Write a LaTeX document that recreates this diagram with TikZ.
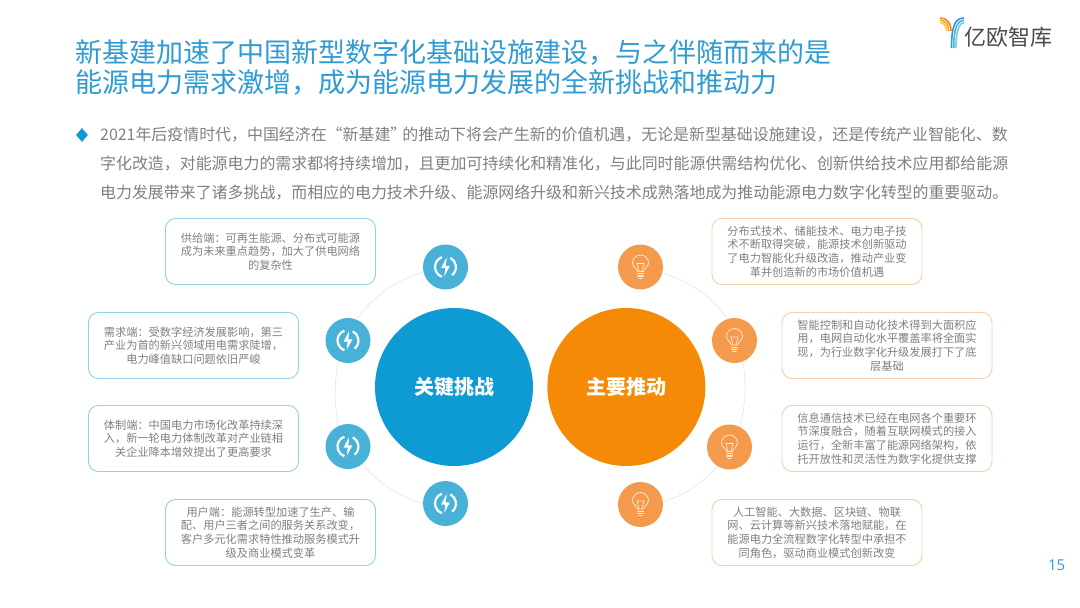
\documentclass[tikz,border=0pt]{standalone}
\usepackage{fontspec}
\setmainfont{Noto Sans CJK SC}
\newfontfamily\numfont{Open Sans}
\usetikzlibrary{positioning}
\usetikzlibrary{shapes.geometric}
\definecolor{titleblue}{HTML}{2F9BD2}
\definecolor{bodygray}{HTML}{808080}
\definecolor{bigblue}{HTML}{0E9AD2}
\definecolor{bigorange}{HTML}{F48A05}
\definecolor{discblue}{HTML}{47B1D8}
\definecolor{discorange}{HTML}{F49A4C}
\definecolor{edgeblue}{HTML}{92D0E8}
\definecolor{edgeorange}{HTML}{F7CFA8}
\definecolor{ringgray}{HTML}{E8E8E8}
\definecolor{logogray}{HTML}{4A4A4A}
\definecolor{bulbline}{HTML}{FFE9D4}
\tikzstyle{card} = [rectangle, rounded corners=10pt,
minimum width=210pt,
minimum height=66pt, text centered,
align = center, inner sep=0pt,
line width=0.9pt, fill=white,
text=bodygray, font=\fontsize{11.2}{13.6}\selectfont]
\tikzstyle{bluecard} = [card, draw=edgeblue]
\tikzstyle{orangecard} = [card, draw=edgeorange]
\tikzstyle{bigdisc} = [circle, minimum size=158pt, inner sep=0pt,
text=white, font=\fontsize{20}{24}\selectfont\bfseries]
\tikzstyle{disc} = [circle, minimum size=45pt, inner sep=0pt]
\tikzstyle{ring} = [ringgray, line width=0.7pt]
\tikzset{
pics/bolticon/.style={code={
    \draw[white, line width=2.2pt] (-3.6,9.9) arc (110:250:10.5);
    \draw[white, line width=2.2pt] (6.7,-8.1) arc (-50:62:10.5);
    \fill[white, draw=discblue, line width=0.8pt] (2,12.5) -- (-5.2,-1.5) -- (-0.8,-1.5) -- (-2,-12) -- (5.2,1.5) -- (0.8,1.5) -- cycle;
}},
pics/bulbicon/.style={code={
    \draw[bulbline, line width=0.8pt, line join=round]
        (-3,-4.5) .. controls (-3.4,-1.5) and (-8,0) .. (-8,4)
        arc (180:0:8) .. controls (8,0) and (3.4,-1.5) .. (3,-4.5) -- cycle;
    \draw[bulbline, line width=0.7pt] (-1.4,-4.5) -- (-3.6,3.6) -- (3.6,3.6) -- (1.4,-4.5);
    \draw[bulbline, line width=1.2pt, line cap=round] (-2.8,-6.8) -- (2.8,-6.8);
    \draw[bulbline, line width=1.2pt, line cap=round] (-2.8,-9) -- (2.8,-9);
    \draw[bulbline, line width=1.2pt, line cap=round] (-1.6,-11.2) -- (1.6,-11.2);
}}
}

\begin{document}
\begin{tikzpicture}[x=1pt, y=1pt]
\useasboundingbox (0,0) rectangle (1080,-608);
% heading
\node[anchor=west, inner sep=0pt, align=left, text=titleblue,
      font=\fontsize{27}{30}\selectfont] (title) at (75,-68)
      {新基建加速了中国新型数字化基础设施建设，与之伴随而来的是\\能源电力需求激增，成为能源电力发展的全新挑战和推动力};
\node[diamond, fill=bigblue, inner sep=0pt, minimum width=12pt, minimum height=14pt] (bullet) at (82,-135) {};
\node[anchor=west, inner sep=0pt, align=left, text=bodygray,
      font=\fontsize{15.93}{29}\selectfont] (intro) at (100,-164)
      {2021年后疫情时代，中国经济在“新基建”\kern-4pt的推动下将会产生新的价值机遇，无论是新型基础设施建设，还是传统产业智能化、数\\字化改造，对能源电力的需求都将持续增加，且更加可持续化和精准化，与此同时能源供需结构优化、创新供给技术应用都给能源\\电力发展带来了诸多挑战，而相应的电力技术升级、能源网络升级和新兴技术成熟落地成为推动能源电力数字化转型的重要驱动。};
% logo
\foreach \i/\c in {0/F28A1E, 2.2/F5A623, 4.4/F7C04A} {
    \definecolor{stripe}{HTML}{\c}
    \draw[stripe, line width=1.6pt] (940,-18-\i) .. controls (946-\i*0.5,-18-\i) and (951-\i,-22-\i) .. (951-\i,-31);
}
\foreach \i/\c in {0/2F9BD2, 2.2/4FB4DC, 4.4/7CCBE6} {
    \definecolor{stripe}{HTML}{\c}
    \draw[stripe, line width=1.6pt] (964,-18-\i) .. controls (956+\i,-18-\i) and (951.5+\i,-24-\i) .. (951.5+\i,-48);
}
\node[anchor=west, inner sep=0pt, text=logogray, font=\fontsize{22}{24}\selectfont] (logotext) at (964.5,-37.5) {亿欧智库};
% centre
\node[bigdisc, fill=bigblue] (challenge) at (454,-387) {关键挑战};
\node[bigdisc, fill=bigorange, right=14pt of challenge] (driver) {主要推动};
% small discs
\node[disc, fill=discblue] (bolta) at (445.5,-267) {};
\node[disc, fill=discblue] (boltb) at (348,-340.5) {};
\node[disc, fill=discblue] (boltc) at (348,-446.5) {};
\node[disc, fill=discblue] (boltd) at (445.5,-503.5) {};
\node[disc, fill=discorange] (bulba) at (640.5,-267) {};
\node[disc, fill=discorange] (bulbb) at (734.5,-340.5) {};
\node[disc, fill=discorange] (bulbc) at (729.5,-447) {};
\node[disc, fill=discorange] (bulbd) at (640.5,-504.5) {};
\foreach \n in {bolta,boltb,boltc,boltd} \pic at (\n) {bolticon};
\foreach \n in {bulba,bulbb,bulbc,bulbd} \pic at (\n) {bulbicon};
\draw[ring] (bolta.192) to[bend right=17] (boltb.68);
\draw[ring] (boltb.245) to[bend right=10] (boltc.115);
\draw[ring] (boltc.-51) to[bend right=15] (boltd.180);
\draw[ring] (bulba.-15) to[bend left=17] (bulbb.108);
\draw[ring] (bulbb.-68) to[bend left=10] (bulbc.62);
\draw[ring] (bulbc.-122) to[bend left=14] (bulbd.6);
% left cards
\node[bluecard] (supply) at (270.5,-251.5) {供给端：可再生能源、分布式可能源\\成为未来重点趋势，加大了供电网络\\的复杂性};
\node[bluecard] (demand) at (193.5,-345.5) {需求端：受数字经济发展影响，第三\\产业为首的新兴领域用电需求陡增，\\电力峰值缺口问题依旧严峻};
\node[bluecard] (system) at (193.5,-438.5) {体制端：中国电力市场化改革持续深\\入，新一轮电力体制改革对产业链相\\关企业降本增效提出了更高要求};
\node[bluecard] (user) at (270.5,-532.5) {用户端：能源转型加速了生产、输\\配、用户三者之间的服务关系改变，\\客户多元化需求特性推动服务模式升\\级及商业模式变革};
% right cards
\node[orangecard] (tech) at (817,-251.5) {分布式技术、储能技术、电力电子技\\术不断取得突破，能源技术创新驱动\\了电力智能化升级改造，推动产业变\\革并创造新的市场价值机遇};
\node[orangecard] (control) at (887,-345.5) {智能控制和自动化技术得到大面积应\\用，电网自动化水平覆盖率将全面实\\现，为行业数字化升级发展打下了底\\层基础};
\node[orangecard] (ict) at (887,-438.5) {信息通信技术已经在电网各个重要环\\节深度融合，随着互联网模式的接入\\运行，全新丰富了能源网络架构，依\\托开放性和灵活性为数字化提供支撑};
\node[orangecard] (emerging) at (817,-532.5) {人工智能、大数据、区块链、物联\\网、云计算等新兴技术落地赋能，在\\能源电力全流程数字化转型中承担不\\同角色，驱动商业模式创新改变};
\node[anchor=east, inner sep=0pt, text=titleblue, font=\numfont\fontsize{15}{18}\selectfont] (pageno) at (1065.5,-565.5) {15};
\end{tikzpicture}
\end{document}
